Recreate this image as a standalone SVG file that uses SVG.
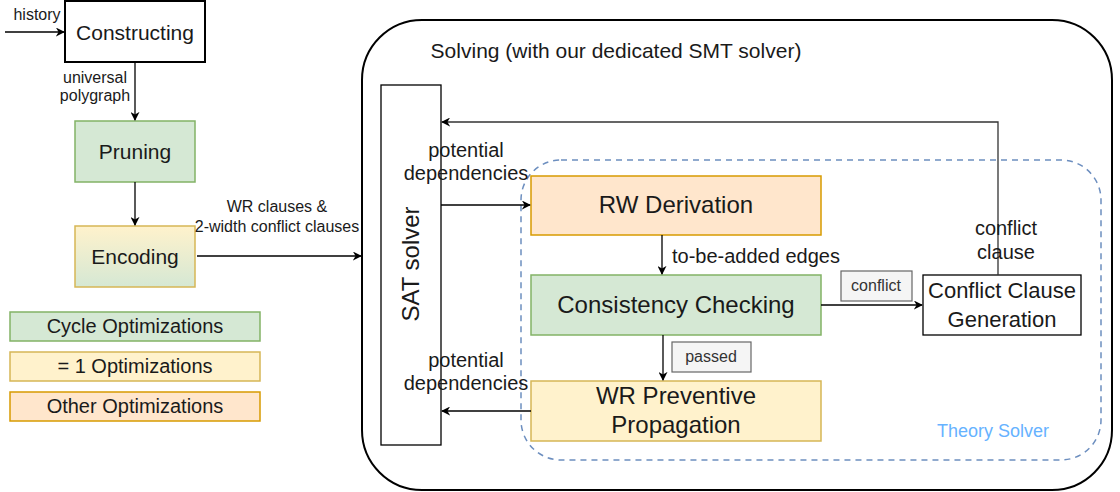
<svg xmlns="http://www.w3.org/2000/svg" width="1120" height="492" viewBox="0 0 1120 492">
<style>
text{font-family:"Liberation Sans",Arial,sans-serif;fill:#1a1a1a}
.n{font-size:21px;text-anchor:middle}
.b{font-size:24px;text-anchor:middle}
.l{font-size:16px;text-anchor:middle}
.e{font-size:20px;text-anchor:middle}
.c{fill:none;stroke:#000;stroke-width:1.3}
.g{fill:#d5e8d4;stroke:#82b366;stroke-width:1.5}
.y{fill:#fff2cc;stroke:#d6b656;stroke-width:1.5}
.o{fill:#ffe6cc;stroke:#d79b00;stroke-width:1.5}
.lb{fill:#f5f5f5;stroke:#666;stroke-width:1.2}
</style>
<defs>
<marker id="a" viewBox="0 0 10 10" refX="9" refY="5" markerWidth="9" markerHeight="9" markerUnits="userSpaceOnUse" orient="auto"><path d="M0,0 L10,5 L0,10 L3,5 Z" fill="#000"/></marker>
<linearGradient id="enc" x1="0" y1="0" x2="0" y2="1"><stop offset="0" stop-color="#fff2cc"/><stop offset="1" stop-color="#d5e8d4"/></linearGradient>
</defs>
<g id="solving">
<rect x="362" y="20" width="750" height="470" rx="60" fill="#fff" stroke="#000" stroke-width="2"/>
<text x="616" y="58" class="e" style="font-size:21px">Solving (with our dedicated SMT solver)</text>
</g>
<g id="theory">
<rect x="521" y="160" width="580" height="300" rx="40" fill="none" stroke="#6c8ebf" stroke-width="1.5" stroke-dasharray="6 5"/>
<text x="993" y="437" style="font-size:18px;fill:#66b2ff;text-anchor:middle">Theory Solver</text>
</g>
<g id="constructing">
<rect x="65" y="1" width="140" height="61" fill="#fff" stroke="#000" stroke-width="2"/>
<text x="135" y="40" class="n">Constructing</text>
</g>
<g id="pruning">
<rect x="75" y="121" width="120" height="61" class="g"/>
<text x="135" y="159" class="n">Pruning</text>
</g>
<g id="encoding">
<rect x="75" y="226" width="120" height="61" fill="url(#enc)" stroke="#d6b656" stroke-width="1.5"/>
<text x="135" y="264" class="n">Encoding</text>
</g>
<g id="legend-cycle">
<rect x="10" y="312" width="250" height="29" class="g"/>
<text x="135" y="333" class="e">Cycle Optimizations</text>
</g>
<g id="legend-eq1">
<rect x="10" y="352" width="250" height="29" class="y"/>
<text x="135" y="373" class="e">= 1 Optimizations</text>
</g>
<g id="legend-other">
<rect x="10" y="392" width="250" height="29" class="o"/>
<text x="135" y="413" class="e">Other Optimizations</text>
</g>
<g id="sat">
<rect x="381" y="85" width="60" height="360" fill="#fff" stroke="#000" stroke-width="1.3"/>
<text x="0" y="0" class="b" transform="translate(419,264) rotate(-90)">SAT solver</text>
</g>
<g id="rw">
<rect x="531" y="176" width="290" height="59" class="o"/>
<text x="676" y="213" class="b">RW Derivation</text>
</g>
<g id="cc">
<rect x="531" y="275" width="290" height="60" class="g"/>
<text x="676" y="313" class="b">Consistency Checking</text>
</g>
<g id="wr">
<rect x="531" y="381" width="290" height="60" class="y"/>
<text x="676" y="404" class="b">WR Preventive</text>
<text x="676" y="433" class="b">Propagation</text>
</g>
<g id="ccg">
<rect x="923" y="275" width="158" height="60" fill="#fff" stroke="#000" stroke-width="1.3"/>
<text x="1002" y="298" class="b" style="font-size:22px">Conflict Clause</text>
<text x="1002" y="327" class="b" style="font-size:22px">Generation</text>
</g>
<g id="connectors">
<path class="c" d="M5,32 H64" marker-end="url(#a)"/>
<text x="37" y="20" class="l">history</text>
<path class="c" d="M135,62 V120" marker-end="url(#a)"/>
<text x="95" y="83" class="l">universal</text>
<text x="95" y="101" class="l">polygraph</text>
<path class="c" d="M135,182 V225" marker-end="url(#a)"/>
<path class="c" d="M197,256 H361" marker-end="url(#a)"/>
<text x="277" y="212" class="l">WR clauses &amp;</text>
<text x="277" y="232" class="l">2-width conflict clauses</text>
<path class="c" d="M998,275 V122 H442" marker-end="url(#a)" style="stroke:#333"/>
<text x="1006" y="235" class="e">conflict</text>
<text x="1006" y="259" class="e">clause</text>
<path class="c" d="M441,205 H530" marker-end="url(#a)"/>
<text x="466" y="157" class="e">potential</text>
<text x="466" y="180" class="e">dependencies</text>
<path class="c" d="M662,235 V274" marker-end="url(#a)"/>
<text x="672" y="263" class="e" style="text-anchor:start">to-be-added edges</text>
<path class="c" d="M663,335 V380" marker-end="url(#a)"/>
<rect x="672" y="342" width="79" height="30" class="lb"/>
<text x="711" y="362" class="l" style="fill:#333">passed</text>
<path class="c" d="M821,305 H922" marker-end="url(#a)"/>
<rect x="841" y="271" width="71" height="30" class="lb"/>
<text x="876" y="291" class="l" style="fill:#333">conflict</text>
<path class="c" d="M531,411 H442" marker-end="url(#a)"/>
<text x="466" y="367" class="e">potential</text>
<text x="466" y="390" class="e">dependencies</text>
</g>
</svg>
